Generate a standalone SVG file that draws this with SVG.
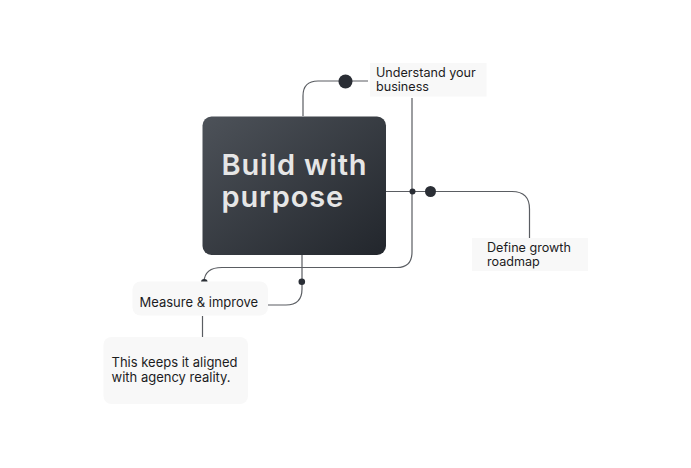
<svg xmlns="http://www.w3.org/2000/svg" width="691" height="468" viewBox="0 0 691 468">
<defs>
<linearGradient id="g" x1="0" y1="0" x2="1" y2="1">
<stop offset="0" stop-color="#4d5259"/>
<stop offset="1" stop-color="#22262c"/>
</linearGradient>
<style>
.lbl{fill:#f8f8f8}
.t{font-family:Inter,"Liberation Sans",sans-serif;font-size:13px;fill:#1c1c1e}
.t2{font-family:Inter,"Liberation Sans",sans-serif;font-size:12.6px;fill:#1c1c1e}
.c{fill:none;stroke:#5a5d62;stroke-width:1.2}
.d{fill:#2a2e35}
</style>
</defs>
<rect width="691" height="468" fill="#ffffff"/>
<g id="connectors">
<path class="c" d="M303 116 V96 Q303 81 318 81 H368"/>
<path class="c" d="M412 98 V252 Q412 267.5 397 267.5 H222 Q204.5 267.5 204 282"/>
<path class="c" d="M386 191.5 H512 Q529.5 191.5 529.5 209 V238"/>
<path class="c" d="M302 255 V289 Q302 305 286 305 H268"/>
<path class="c" d="M202.5 316 V337"/>
<circle class="d" cx="345.5" cy="81.5" r="7"/>
<circle class="d" cx="412.5" cy="191.5" r="3"/>
<circle class="d" cx="430.5" cy="191.5" r="5.5"/>
<circle class="d" cx="204.3" cy="282.3" r="3.3"/>
<circle class="d" cx="301.8" cy="281.8" r="3.3"/>
</g>
<g id="main">
<rect x="202.5" y="116.5" width="183.5" height="138.5" rx="9" fill="url(#g)"/>
<text font-family="Inter,'Liberation Sans',sans-serif" font-size="29" font-weight="600" letter-spacing="0.85" fill="#e6e6e6"><tspan x="221.5" y="174.8">Build with</tspan><tspan x="221.5" y="207.3">purpose</tspan></text>
</g>
<g id="understand">
<rect class="lbl" x="370" y="63" width="116.5" height="33.5"/>
<text class="t2"><tspan x="376" y="77">Understand your</tspan><tspan x="376" y="90.5">business</tspan></text>
</g>
<g id="define">
<rect class="lbl" x="472" y="238" width="116" height="33"/>
<text class="t2"><tspan x="487" y="252">Define growth</tspan><tspan x="487" y="265.5">roadmap</tspan></text>
</g>
<g id="measure">
<rect class="lbl" x="132.5" y="281.5" width="135.5" height="34" rx="8"/>
<text class="t" x="139.5" y="306.5">Measure &amp; improve</text>
</g>
<g id="note">
<rect class="lbl" x="103.5" y="337" width="144.5" height="67" rx="8"/>
<text class="t"><tspan x="111.5" y="366.5">This keeps it aligned</tspan><tspan x="111.5" y="382">with agency reality.</tspan></text>
</g>
</svg>
